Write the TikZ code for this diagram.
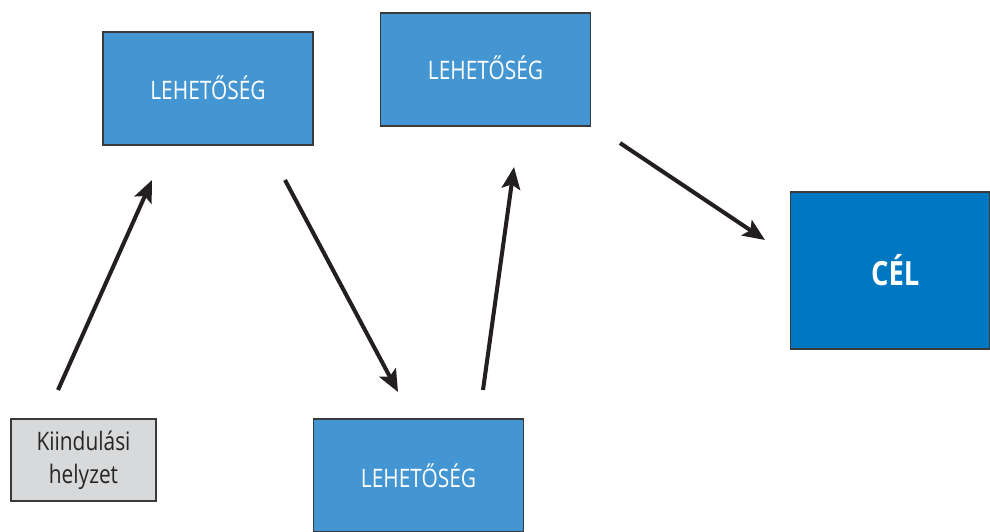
\documentclass[tikz,border=0pt]{standalone}
\usepackage{fontspec}
\setmainfont{Open Sans}[FakeStretch=0.82]
\newfontfamily\condlight{Open Sans}[FakeStretch=0.82]
\usetikzlibrary{arrows.meta}
\definecolor{optblue}{HTML}{4396D2}
\definecolor{goalblue}{HTML}{0078C1}
\definecolor{startgray}{HTML}{D8D9DA}
\definecolor{edgegray}{HTML}{3A3A3A}
\definecolor{arrowink}{HTML}{231F20}
\tikzset{
  box/.style={draw=edgegray, line width=0.6pt, inner sep=0pt, align=center},
  optbox/.style={box, fill=optblue, text=white, minimum width=4.2cm, minimum height=2.26cm,
    font=\condlight\fontsize{14.5}{17}\selectfont},
  goalbox/.style={box, fill=goalblue, text=white, minimum width=4.0cm, minimum height=3.14cm,
    font=\bfseries\fontsize{19}{22}\selectfont},
  startbox/.style={box, fill=startgray, text=black!85, minimum width=2.9cm, minimum height=1.64cm,
    font=\fontsize{14.5}{19}\selectfont},
  link/.style={draw=arrowink, line width=2.3pt,
    -{Stealth[length=12.5pt,width=10.5pt,inset=2.5pt]}}
}
\begin{document}
\begin{tikzpicture}[x=0.02cm,y=-0.02cm]
  \useasboundingbox (0,0) rectangle (990,531);
  % boxes
  \node[startbox] (start) at (83.5,460) {Kiindulási\\helyzet};
  \node[optbox] (opt1) at (208,88.5) {\raisebox{1pt}{LEHETŐSÉG}};
  \node[optbox] (opt2) at (418.5,475.5) {LEHETŐSÉG};
  \node[optbox] (opt3) at (485.5,69.5) {\raisebox{2pt}{LEHETŐSÉG}};
  \node[goalbox] (goal) at (890,270.5) {\hspace*{6pt}CÉL};
  % arrow end points
  \coordinate (s1) at (58,390);   \coordinate (e1) at (152,180);
  \coordinate (s2) at (285,180);  \coordinate (e2) at (398,392);
  \coordinate (s3) at (483,390);  \coordinate (e3) at (514,167);
  \coordinate (s4) at (620,143);  \coordinate (e4) at (765,240);
  % arrows
  \draw[link] (s1) -- (e1);
  \draw[link] (s2) -- (e2);
  \draw[link] (s3) -- (e3);
  \draw[link] (s4) -- (e4);
\end{tikzpicture}
\end{document}
